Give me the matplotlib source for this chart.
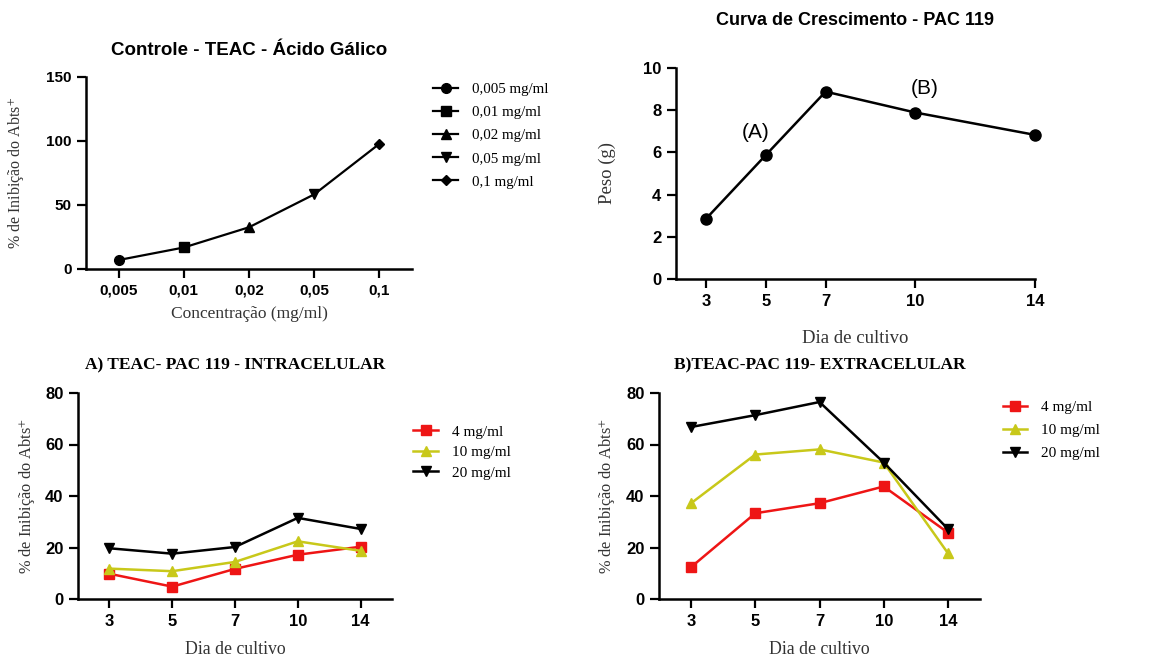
import numpy as np
import matplotlib
matplotlib.use('Agg')
import matplotlib.pyplot as plt

plt.rcParams['mathtext.fontset'] = 'stix'

# ---- data ----
conc_labels = ['0,005', '0,01', '0,02', '0,05', '0,1']
conc_legend = ['0,005 mg/ml', '0,01 mg/ml', '0,02 mg/ml', '0,05 mg/ml', '0,1 mg/ml']
controle = [7.0, 16.8, 32.6, 58.3, 97.8]

dias = [3, 5, 7, 10, 14]
peso = [2.85, 5.87, 8.88, 7.89, 6.83]

dose_labels = ['4 mg/ml', '10 mg/ml', '20 mg/ml']
intra_4 = [9.8, 4.8, 11.7, 17.2, 20.3]
intra_10 = [11.8, 10.8, 14.4, 22.4, 18.7]
intra_20 = [19.7, 17.6, 20.2, 31.5, 27.2]
extra_4 = [12.4, 33.3, 37.2, 43.7, 25.8]
extra_10 = [37.2, 56.1, 58.1, 53.0, 17.8]
extra_20 = [66.8, 71.4, 76.5, 53.0, 27.2]

SANS = 'Liberation Sans'
SERIF = 'Liberation Serif'
RED = '#ee1515'
YEL = '#c8c81a'
GREY = '#333333'
W, H = 1149, 657

fig = plt.figure(figsize=(W / 100, H / 100), dpi=100)


def px_axes(x0, y0, x1, y1):
    return fig.add_axes([x0 / W, 1 - y1 / H, (x1 - x0) / W, (y1 - y0) / H])


def style(ax, tsize):
    for s in ['top', 'right']:
        ax.spines[s].set_visible(False)
    for s in ['left', 'bottom']:
        ax.spines[s].set_linewidth(1.8)
    ax.tick_params(direction='out', length=6.5, width=1.6, pad=4)
    for lab in ax.get_xticklabels() + ax.get_yticklabels():
        lab.set_fontfamily(SANS)
        lab.set_fontweight('bold')
        lab.set_fontsize(tsize)


ylab = '% de Inibição do Abts$^{+}$'

# ---- top left: controle ----
ax1 = px_axes(86, 77, 412, 269)
pos = np.arange(len(conc_labels))
ax1.plot(pos, controle, color='black', lw=1.6, zorder=2)
markers = ['o', 's', '^', 'v', 'D']
sizes = [7, 7, 7, 7, 5]
for i in range(len(pos)):
    ax1.plot(pos[i], controle[i], linestyle='-', color='black', lw=1.6,
             marker=markers[i], ms=sizes[i], label=conc_legend[i], zorder=3)
ax1.set_xlim(-0.5, 4.5)
ax1.set_ylim(0, 150)
ax1.set_xticks(pos)
ax1.set_xticklabels(conc_labels)
ax1.set_yticks([0, 50, 100, 150])
style(ax1, 11)
ax1.set_title('Controle - TEAC - Ácido Gálico', fontfamily=SANS, fontweight='bold',
              fontsize=13.5, pad=16)
ax1.set_xlabel('Concentração (mg/ml)', fontfamily=SERIF, fontsize=12.5, color=GREY)
ax1.xaxis.set_label_coords(0.5, -0.195)
ax1.set_ylabel(ylab, fontfamily=SERIF, fontsize=11.5, color=GREY)
ax1.yaxis.label.set_verticalalignment('center')
ax1.yaxis.set_label_coords(-0.215, 0.5)
ax1.legend(loc='upper left', bbox_to_anchor=(1.064, 0.97), frameon=False,
           borderaxespad=0, borderpad=0, handlelength=1.7, handletextpad=0.9,
           labelspacing=0.64, prop={'family': SERIF, 'size': 10.8})

# ---- top right: curva de crescimento ----
ax2 = px_axes(676, 68, 1035, 279)
ax2.plot(dias, peso, color='black', lw=1.8, marker='o', ms=8, clip_on=False, zorder=3)
ax2.set_xlim(2, 14)
ax2.set_ylim(0, 10)
ax2.set_xticks(dias)
ax2.set_yticks([0, 2, 4, 6, 8, 10])
style(ax2, 12)
ax2.text(4.65, 6.95, '(A)', fontfamily=SANS, fontsize=15, ha='center', va='center')
ax2.text(10.3, 9.05, '(B)', fontfamily=SANS, fontsize=15, ha='center', va='center')
ax2.set_title('Curva de Crescimento - PAC 119', fontfamily=SANS, fontweight='bold',
              fontsize=13, pad=31)
ax2.set_xlabel('Dia de cultivo', fontfamily=SERIF, fontsize=13.5, color=GREY)
ax2.xaxis.set_label_coords(0.5, -0.24)
ax2.set_ylabel('Peso (g)', fontfamily=SERIF, fontsize=13.5, color=GREY)
ax2.yaxis.label.set_verticalalignment('center')
ax2.yaxis.set_label_coords(-0.192, 0.5)


# ---- bottom panels ----
def dose_panel(ax, s4, s10, s20, title, leg_anchor, spacing):
    p = np.arange(len(dias))
    ax.plot(p, s4, color=RED, lw=1.8, marker='s', ms=7, label=dose_labels[0])
    ax.plot(p, s10, color=YEL, lw=1.8, marker='^', ms=7.5, label=dose_labels[1])
    ax.plot(p, s20, color='black', lw=1.8, marker='v', ms=7.5, label=dose_labels[2])
    ax.set_xlim(-0.5, 4.5)
    ax.set_ylim(0, 80)
    ax.set_xticks(p)
    ax.set_xticklabels([str(d) for d in dias])
    ax.set_yticks([0, 20, 40, 60, 80])
    style(ax, 12)
    ax.set_title(title, fontfamily=SERIF, fontweight='bold', fontsize=12.5, pad=17)
    ax.set_xlabel('Dia de cultivo', fontfamily=SERIF, fontsize=12.8, color=GREY)
    ax.xaxis.set_label_coords(0.5, -0.205)
    ax.set_ylabel(ylab, fontfamily=SERIF, fontsize=11.8, color=GREY)
    ax.yaxis.label.set_verticalalignment('center')
    ax.yaxis.set_label_coords(-0.162, 0.5)
    ax.legend(loc='upper left', bbox_to_anchor=leg_anchor, frameon=False,
              borderaxespad=0, borderpad=0, handlelength=1.6, handletextpad=0.9,
              labelspacing=spacing, prop={'family': SERIF, 'size': 11})


ax3 = px_axes(78, 393, 392, 599)
dose_panel(ax3, intra_4, intra_10, intra_20, 'A) TEAC- PAC 119 - INTRACELULAR',
           (1.068, 0.845), 0.45)
ax4 = px_axes(659, 393, 980, 599)
dose_panel(ax4, extra_4, extra_10, extra_20, 'B)TEAC-PAC 119- EXTRACELULAR',
           (1.071, 0.965), 0.62)

fig.savefig('out.png', dpi=100)
